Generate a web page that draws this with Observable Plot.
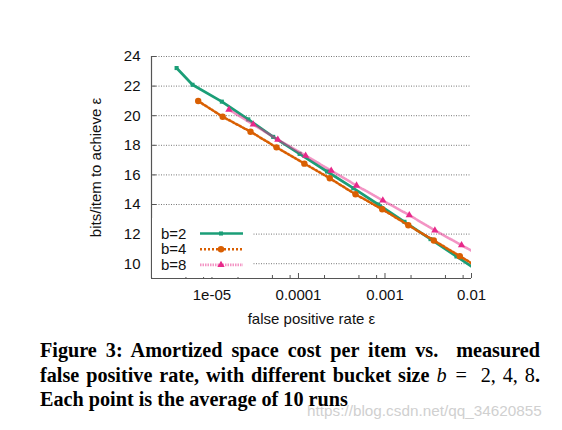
<!DOCTYPE html>
<html>
<head>
<meta charset="utf-8">
<script src="https://cdn.jsdelivr.net/npm/d3@7"></script>
<script src="https://cdn.jsdelivr.net/npm/@observablehq/plot@0.6"></script>
<style>
  html, body { margin: 0; padding: 0; background: #fff; }
  body { width: 562px; height: 430px; position: relative; overflow: hidden; }
  #chart { position: absolute; left: 0; top: 0; }
  .cap {
    position: absolute; left: 40px; top: 338px; width: 500px;
    font-family: "Liberation Serif", "Times New Roman", serif;
    font-weight: bold; font-size: 20.2px; line-height: 24.5px; color: #000;
  }
  .cap .ln { white-space: nowrap; height: 24.5px; }
  .cap .j { text-align: justify; text-align-last: justify; }
  .cap .m { font-weight: normal; }
  .cap .b { font-weight: normal; font-style: italic; margin-right: 2px; }
  .wm {
    position: absolute; left: 307px; top: 402px;
    font-family: "Liberation Sans", Arial, sans-serif; font-size: 15.3px;
    color: #d0d0d0;
  }
</style>
</head>
<body>
<div id="chart"></div>
<div class="cap">
  <div class="ln j">Figure 3: Amortized space cost per item vs.&nbsp; measured</div>
  <div class="ln j"><span>false positive rate, with different bucket size </span><span class="b">b</span><span class="m">&nbsp;=&nbsp; 2, 4, 8</span><span>.</span></div>
  <div class="ln">Each point is the average of 10 runs</div>
</div>
<div class="wm">https://blog.csdn.net/qq_34620855</div>
<script>
// ---- data ----
const seriesNames = ["b=2", "b=4", "b=8"];
const seriesColors = ["#1b9e77", "#d95f02", "#e7298a"];

const eps2 = [3.9e-6, 5.96e-6, 1.3e-5, 2.63e-5, 5.1e-5, 1.03e-4, 2.14e-4, 4.3e-4, 8.36e-4, 1.68e-3, 3.36e-3, 6.7e-3, 1.34e-2];
const bits2 = [23.22, 22.09, 20.95, 19.75, 18.57, 17.42, 16.23, 15.10, 14.0, 12.83, 11.66, 10.49, 9.32];

const eps4 = [6.93e-6, 1.33e-5, 2.79e-5, 5.57e-5, 1.17e-4, 2.30e-4, 4.56e-4, 9.29e-4, 1.86e-3, 3.67e-3, 7.33e-3, 1.45e-2];
const bits4 = [20.99, 19.93, 18.92, 17.86, 16.76, 15.77, 14.69, 13.68, 12.60, 11.57, 10.51, 9.46];

const eps8 = [1.57e-5, 3.0e-5, 5.77e-5, 1.21e-4, 2.39e-4, 4.69e-4, 9.44e-4, 1.91e-3, 3.77e-3, 7.67e-3, 1.55e-2];
const bits8 = [20.41, 19.41, 18.38, 17.30, 16.29, 15.28, 14.27, 13.28, 12.25, 11.25, 10.25];

const xMajorTicks = [1e-5, 1e-4, 1e-3, 1e-2];
const xTickLabels = ["1e-05", "0.0001", "0.001", "0.01"];
const xMinorTicks = [5e-6, 8e-6, 2e-5, 5e-5, 8e-5, 2e-4, 5e-4, 8e-4, 2e-3, 5e-3, 8e-3];
const yTicks = [10, 12, 14, 16, 18, 20, 22, 24];
const xLabel = "false positive rate ε";
const yLabel = "bits/item to achieve ε";

// ---- build ----
const toRows = (eps, bits, name) => eps.map((e, i) => ({eps: e, bits: bits[i], series: name}));
const s2 = toRows(eps2, bits2, seriesNames[0]);
const s4 = toRows(eps4, bits4, seriesNames[1]);
const s8 = toRows(eps8, bits8, seriesNames[2]);

const W = 562, H = 330, ML = 151, MR = 91, MT = 56, MB = 52;
const frameH = H - MT - MB;
const axisColor = "#555";
const font = "'Liberation Sans', Arial, Helvetica, sans-serif";

const plot = Plot.plot({
  width: W, height: H,
  marginLeft: ML, marginRight: MR, marginTop: MT, marginBottom: MB,
  style: {fontFamily: font, fontSize: "15px", color: "#111", background: "#fff", overflow: "visible"},
  x: {type: "log", domain: [2e-6, 0.01], axis: null},
  y: {domain: [9, 24], axis: null},
  marks: [
    // dotted horizontal grid
    Plot.ruleY(yTicks, {y: d => d, stroke: "#777", strokeWidth: 1, strokeDasharray: "1,1.5"}),
    // axes lines
    Plot.ruleX([2e-6], {x: d => d, stroke: axisColor, strokeWidth: 1.2}),
    Plot.ruleY([9], {y: d => d, stroke: axisColor, strokeWidth: 1.2}),
    // inward ticks
    Plot.tickY(yTicks, {y: d => d, stroke: axisColor, insetRight: W - ML - MR - 5}),
    Plot.tickX(xMajorTicks, {x: d => d, stroke: axisColor, insetTop: frameH - 5}),
    Plot.tickX(xMinorTicks, {x: d => d, stroke: axisColor, insetTop: frameH - 3}),
    // tick labels
    Plot.text(xMajorTicks, {x: d => d, text: (d, i) => xTickLabels[i], frameAnchor: "bottom", dy: 17, textAnchor: "middle", lineAnchor: "middle", fill: "#111"}),
    Plot.text(yTicks, {y: d => d, text: d => String(d), frameAnchor: "left", dx: -11, textAnchor: "end", lineAnchor: "middle", fill: "#111"}),
    // axis labels
    Plot.text([xLabel], {text: d => d, frameAnchor: "bottom", dy: 41, textAnchor: "middle", lineAnchor: "middle", fill: "#111"}),
    Plot.text([yLabel], {text: d => d, frameAnchor: "left", dx: -55, rotate: -90, textAnchor: "middle", lineAnchor: "middle", fill: "#111"}),
    // series
    Plot.line(s2, {x: "eps", y: "bits", stroke: seriesColors[0], strokeWidth: 2.7, clip: true}),
    Plot.dot(s2, {x: "eps", y: "bits", symbol: "square", r: 2.3, fill: seriesColors[0], clip: true}),
    Plot.line(s4, {x: "eps", y: "bits", stroke: seriesColors[1], strokeWidth: 2.6, strokeDasharray: "2,2", clip: true}),
    Plot.dot(s4, {x: "eps", y: "bits", symbol: "circle", r: 3.2, fill: seriesColors[1], clip: true}),
    Plot.line(s8, {x: "eps", y: "bits", stroke: seriesColors[2], strokeOpacity: 0.5, strokeWidth: 2.6, strokeDasharray: "1.5,1", clip: true}),
    Plot.dot(s8, {x: "eps", y: "bits", symbol: "triangle", r: 2.7, fill: seriesColors[2], clip: true})
  ]
});

document.getElementById("chart").appendChild(plot);

// ---- legend (inside plot, bottom-left, white box over the grid) ----
const svg = d3.select(plot);
const lg = svg.append("g").attr("font-family", font).attr("font-size", 15).attr("text-anchor", "start");
lg.append("rect").attr("x", ML + 1).attr("y", 218).attr("width", 100).attr("height", H - MB - 218 - 1).attr("fill", "#fff");
const symbols = [d3.symbolSquare, d3.symbolCircle, d3.symbolTriangle];
const symSizes = [Math.PI * 2.3 * 2.3, Math.PI * 3.2 * 3.2, Math.PI * 2.7 * 2.7];
const dashes = [null, "2,2", "1.5,1"];
const opac = [1, 1, 0.5];
seriesNames.forEach((name, i) => {
  const cy = 233.5 + i * 15.7;
  lg.append("text").attr("x", 161).attr("y", cy).attr("dy", "0.35em").attr("fill", "#111").attr("text-anchor", "start").text(name);
  lg.append("line").attr("x1", 200).attr("x2", 243).attr("y1", cy).attr("y2", cy)
    .attr("stroke", seriesColors[i]).attr("stroke-width", 2.6)
    .attr("stroke-opacity", opac[i])
    .attr("stroke-dasharray", dashes[i]);
  lg.append("path").attr("transform", `translate(221,${cy})`)
    .attr("d", d3.symbol(symbols[i], symSizes[i])()).attr("fill", seriesColors[i]);
});
</script>
</body>
</html>
